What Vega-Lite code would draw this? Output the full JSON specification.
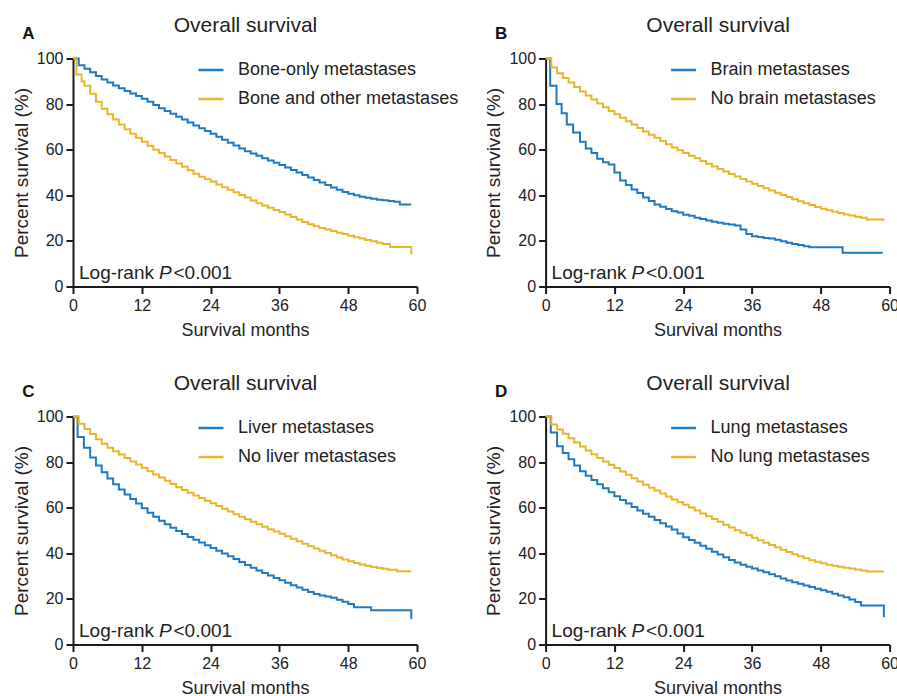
{
  "$schema": "https://vega.github.io/schema/vega-lite/v6.json",
  "background": "white",
  "autosize": {"type": "pad"},
  "padding": {"left": 12, "top": 13.5, "right": 5, "bottom": 0},
  "columns": 2,
  "spacing": {"row": 130, "column": 128.6},
  "bounds": "flush",
  "datasets": {
    "A": [
      {"m":0,"s":100,"g":"Bone-only metastases"},{"m":1,"s":97,"g":"Bone-only metastases"},{"m":2,"s":95.5,"g":"Bone-only metastases"},{"m":3,"s":94,"g":"Bone-only metastases"},{"m":4,"s":92.3,"g":"Bone-only metastases"},{"m":5,"s":90.8,"g":"Bone-only metastases"},{"m":6,"s":89.5,"g":"Bone-only metastases"},{"m":7,"s":88.2,"g":"Bone-only metastases"},{"m":8,"s":87,"g":"Bone-only metastases"},{"m":9,"s":85.8,"g":"Bone-only metastases"},{"m":10,"s":84.6,"g":"Bone-only metastases"},{"m":11,"s":83.5,"g":"Bone-only metastases"},{"m":12,"s":82.4,"g":"Bone-only metastases"},{"m":13,"s":81,"g":"Bone-only metastases"},{"m":14,"s":79.6,"g":"Bone-only metastases"},{"m":15,"s":78.2,"g":"Bone-only metastases"},{"m":16,"s":77,"g":"Bone-only metastases"},{"m":17,"s":75.8,"g":"Bone-only metastases"},{"m":18,"s":74.5,"g":"Bone-only metastases"},{"m":19,"s":73.2,"g":"Bone-only metastases"},{"m":20,"s":71.9,"g":"Bone-only metastases"},{"m":21,"s":70.6,"g":"Bone-only metastases"},{"m":22,"s":69.4,"g":"Bone-only metastases"},{"m":23,"s":68.2,"g":"Bone-only metastases"},{"m":24,"s":67,"g":"Bone-only metastases"},{"m":25,"s":65.7,"g":"Bone-only metastases"},{"m":26,"s":64.4,"g":"Bone-only metastases"},{"m":27,"s":63.1,"g":"Bone-only metastases"},{"m":28,"s":61.8,"g":"Bone-only metastases"},{"m":29,"s":60.5,"g":"Bone-only metastases"},{"m":30,"s":59.3,"g":"Bone-only metastases"},{"m":31,"s":58.3,"g":"Bone-only metastases"},{"m":32,"s":57.3,"g":"Bone-only metastases"},{"m":33,"s":56.3,"g":"Bone-only metastases"},{"m":34,"s":55.3,"g":"Bone-only metastases"},{"m":35,"s":54.3,"g":"Bone-only metastases"},{"m":36,"s":53.3,"g":"Bone-only metastases"},{"m":37,"s":52.2,"g":"Bone-only metastases"},{"m":38,"s":51.1,"g":"Bone-only metastases"},{"m":39,"s":50,"g":"Bone-only metastases"},{"m":40,"s":48.9,"g":"Bone-only metastases"},{"m":41,"s":47.8,"g":"Bone-only metastases"},{"m":42,"s":46.7,"g":"Bone-only metastases"},{"m":43,"s":45.6,"g":"Bone-only metastases"},{"m":44,"s":44.5,"g":"Bone-only metastases"},{"m":45,"s":43.4,"g":"Bone-only metastases"},{"m":46,"s":42.4,"g":"Bone-only metastases"},{"m":47,"s":41.5,"g":"Bone-only metastases"},{"m":48,"s":40.7,"g":"Bone-only metastases"},{"m":49,"s":40,"g":"Bone-only metastases"},{"m":50,"s":39.4,"g":"Bone-only metastases"},{"m":51,"s":38.9,"g":"Bone-only metastases"},{"m":52,"s":38.5,"g":"Bone-only metastases"},{"m":53,"s":38.1,"g":"Bone-only metastases"},{"m":54,"s":37.8,"g":"Bone-only metastases"},{"m":55,"s":37.5,"g":"Bone-only metastases"},{"m":56,"s":37.2,"g":"Bone-only metastases"},{"m":57,"s":36,"g":"Bone-only metastases"},{"m":59,"s":36,"g":"Bone-only metastases"},
      {"m":0,"s":100,"g":"Bone and other metastases"},{"m":0.6,"s":93,"g":"Bone and other metastases"},{"m":1.5,"s":90,"g":"Bone and other metastases"},{"m":2,"s":88,"g":"Bone and other metastases"},{"m":3,"s":84.5,"g":"Bone and other metastases"},{"m":4,"s":81,"g":"Bone and other metastases"},{"m":5,"s":78,"g":"Bone and other metastases"},{"m":6,"s":75.5,"g":"Bone and other metastases"},{"m":7,"s":73.2,"g":"Bone and other metastases"},{"m":8,"s":71,"g":"Bone and other metastases"},{"m":9,"s":69,"g":"Bone and other metastases"},{"m":10,"s":67,"g":"Bone and other metastases"},{"m":11,"s":65.2,"g":"Bone and other metastases"},{"m":12,"s":63.5,"g":"Bone and other metastases"},{"m":13,"s":61.7,"g":"Bone and other metastases"},{"m":14,"s":60,"g":"Bone and other metastases"},{"m":15,"s":58.5,"g":"Bone and other metastases"},{"m":16,"s":57,"g":"Bone and other metastases"},{"m":17,"s":55.5,"g":"Bone and other metastases"},{"m":18,"s":54,"g":"Bone and other metastases"},{"m":19,"s":52.5,"g":"Bone and other metastases"},{"m":20,"s":51,"g":"Bone and other metastases"},{"m":21,"s":49.5,"g":"Bone and other metastases"},{"m":22,"s":48.1,"g":"Bone and other metastases"},{"m":23,"s":47,"g":"Bone and other metastases"},{"m":24,"s":46,"g":"Bone and other metastases"},{"m":25,"s":44.7,"g":"Bone and other metastases"},{"m":26,"s":43.5,"g":"Bone and other metastases"},{"m":27,"s":42.4,"g":"Bone and other metastases"},{"m":28,"s":41.3,"g":"Bone and other metastases"},{"m":29,"s":40.1,"g":"Bone and other metastases"},{"m":30,"s":39,"g":"Bone and other metastases"},{"m":31,"s":37.7,"g":"Bone and other metastases"},{"m":32,"s":36.5,"g":"Bone and other metastases"},{"m":33,"s":35.5,"g":"Bone and other metastases"},{"m":34,"s":34.5,"g":"Bone and other metastases"},{"m":35,"s":33.6,"g":"Bone and other metastases"},{"m":36,"s":32.7,"g":"Bone and other metastases"},{"m":37,"s":31.6,"g":"Bone and other metastases"},{"m":38,"s":30.5,"g":"Bone and other metastases"},{"m":39,"s":29.4,"g":"Bone and other metastases"},{"m":40,"s":28.3,"g":"Bone and other metastases"},{"m":41,"s":27.3,"g":"Bone and other metastases"},{"m":42,"s":26.4,"g":"Bone and other metastases"},{"m":43,"s":25.7,"g":"Bone and other metastases"},{"m":44,"s":25,"g":"Bone and other metastases"},{"m":45,"s":24.3,"g":"Bone and other metastases"},{"m":46,"s":23.6,"g":"Bone and other metastases"},{"m":47,"s":23,"g":"Bone and other metastases"},{"m":48,"s":22.3,"g":"Bone and other metastases"},{"m":49,"s":21.6,"g":"Bone and other metastases"},{"m":50,"s":21,"g":"Bone and other metastases"},{"m":51,"s":20.4,"g":"Bone and other metastases"},{"m":52,"s":19.8,"g":"Bone and other metastases"},{"m":53,"s":19.2,"g":"Bone and other metastases"},{"m":54,"s":18.6,"g":"Bone and other metastases"},{"m":55.3,"s":17.3,"g":"Bone and other metastases"},{"m":59,"s":14,"g":"Bone and other metastases"}
    ],
    "B": [
      {"m":0,"s":100,"g":"Brain metastases"},{"m":0.8,"s":88,"g":"Brain metastases"},{"m":1.9,"s":80,"g":"Brain metastases"},{"m":2.8,"s":76,"g":"Brain metastases"},{"m":3.7,"s":71,"g":"Brain metastases"},{"m":4.8,"s":67.5,"g":"Brain metastases"},{"m":6,"s":63.5,"g":"Brain metastases"},{"m":7,"s":60.5,"g":"Brain metastases"},{"m":8,"s":58.5,"g":"Brain metastases"},{"m":9,"s":56,"g":"Brain metastases"},{"m":10,"s":54.5,"g":"Brain metastases"},{"m":11,"s":53.5,"g":"Brain metastases"},{"m":12,"s":50,"g":"Brain metastases"},{"m":13,"s":46.5,"g":"Brain metastases"},{"m":14,"s":44.5,"g":"Brain metastases"},{"m":15,"s":42.5,"g":"Brain metastases"},{"m":16,"s":41,"g":"Brain metastases"},{"m":17,"s":39,"g":"Brain metastases"},{"m":18,"s":37.5,"g":"Brain metastases"},{"m":19,"s":36,"g":"Brain metastases"},{"m":20,"s":35,"g":"Brain metastases"},{"m":21,"s":34,"g":"Brain metastases"},{"m":22,"s":33,"g":"Brain metastases"},{"m":23,"s":32.5,"g":"Brain metastases"},{"m":24,"s":31.5,"g":"Brain metastases"},{"m":25,"s":31,"g":"Brain metastases"},{"m":26,"s":30.2,"g":"Brain metastases"},{"m":27,"s":29.6,"g":"Brain metastases"},{"m":28,"s":29,"g":"Brain metastases"},{"m":29,"s":28.4,"g":"Brain metastases"},{"m":30,"s":28,"g":"Brain metastases"},{"m":31,"s":27.5,"g":"Brain metastases"},{"m":32,"s":27.2,"g":"Brain metastases"},{"m":33,"s":26.8,"g":"Brain metastases"},{"m":34,"s":25,"g":"Brain metastases"},{"m":35,"s":23,"g":"Brain metastases"},{"m":36,"s":22,"g":"Brain metastases"},{"m":37,"s":21.7,"g":"Brain metastases"},{"m":38,"s":21.3,"g":"Brain metastases"},{"m":39,"s":21,"g":"Brain metastases"},{"m":40,"s":20.5,"g":"Brain metastases"},{"m":41,"s":19.8,"g":"Brain metastases"},{"m":42,"s":19.2,"g":"Brain metastases"},{"m":43,"s":18.6,"g":"Brain metastases"},{"m":44,"s":18.2,"g":"Brain metastases"},{"m":45,"s":17.6,"g":"Brain metastases"},{"m":46,"s":17.2,"g":"Brain metastases"},{"m":51.8,"s":14.8,"g":"Brain metastases"},{"m":58.8,"s":14.8,"g":"Brain metastases"},
      {"m":0,"s":100,"g":"No brain metastases"},{"m":1,"s":96,"g":"No brain metastases"},{"m":2,"s":93.5,"g":"No brain metastases"},{"m":3,"s":91.5,"g":"No brain metastases"},{"m":4,"s":89.5,"g":"No brain metastases"},{"m":5,"s":87.5,"g":"No brain metastases"},{"m":6,"s":85.5,"g":"No brain metastases"},{"m":7,"s":83.8,"g":"No brain metastases"},{"m":8,"s":82,"g":"No brain metastases"},{"m":9,"s":80.3,"g":"No brain metastases"},{"m":10,"s":78.6,"g":"No brain metastases"},{"m":11,"s":77,"g":"No brain metastases"},{"m":12,"s":75.5,"g":"No brain metastases"},{"m":13,"s":74,"g":"No brain metastases"},{"m":14,"s":72.5,"g":"No brain metastases"},{"m":15,"s":71,"g":"No brain metastases"},{"m":16,"s":69.5,"g":"No brain metastases"},{"m":17,"s":68,"g":"No brain metastases"},{"m":18,"s":66.6,"g":"No brain metastases"},{"m":19,"s":65.2,"g":"No brain metastases"},{"m":20,"s":63.8,"g":"No brain metastases"},{"m":21,"s":62.4,"g":"No brain metastases"},{"m":22,"s":61,"g":"No brain metastases"},{"m":23,"s":59.8,"g":"No brain metastases"},{"m":24,"s":58.6,"g":"No brain metastases"},{"m":25,"s":57.4,"g":"No brain metastases"},{"m":26,"s":56.2,"g":"No brain metastases"},{"m":27,"s":55,"g":"No brain metastases"},{"m":28,"s":53.8,"g":"No brain metastases"},{"m":29,"s":52.6,"g":"No brain metastases"},{"m":30,"s":51.5,"g":"No brain metastases"},{"m":31,"s":50.4,"g":"No brain metastases"},{"m":32,"s":49.3,"g":"No brain metastases"},{"m":33,"s":48.2,"g":"No brain metastases"},{"m":34,"s":47.1,"g":"No brain metastases"},{"m":35,"s":46.1,"g":"No brain metastases"},{"m":36,"s":45.1,"g":"No brain metastases"},{"m":37,"s":44.1,"g":"No brain metastases"},{"m":38,"s":43.1,"g":"No brain metastases"},{"m":39,"s":42.1,"g":"No brain metastases"},{"m":40,"s":41.1,"g":"No brain metastases"},{"m":41,"s":40.1,"g":"No brain metastases"},{"m":42,"s":39.2,"g":"No brain metastases"},{"m":43,"s":38.3,"g":"No brain metastases"},{"m":44,"s":37.4,"g":"No brain metastases"},{"m":45,"s":36.5,"g":"No brain metastases"},{"m":46,"s":35.7,"g":"No brain metastases"},{"m":47,"s":34.9,"g":"No brain metastases"},{"m":48,"s":34.1,"g":"No brain metastases"},{"m":49,"s":33.4,"g":"No brain metastases"},{"m":50,"s":32.8,"g":"No brain metastases"},{"m":51,"s":32.2,"g":"No brain metastases"},{"m":52,"s":31.6,"g":"No brain metastases"},{"m":53,"s":31.1,"g":"No brain metastases"},{"m":54,"s":30.6,"g":"No brain metastases"},{"m":55,"s":30.1,"g":"No brain metastases"},{"m":56,"s":29.4,"g":"No brain metastases"},{"m":58.9,"s":28.7,"g":"No brain metastases"}
    ],
    "C": [
      {"m":0,"s":100,"g":"Liver metastases"},{"m":0.8,"s":91,"g":"Liver metastases"},{"m":1.9,"s":86.3,"g":"Liver metastases"},{"m":3,"s":82,"g":"Liver metastases"},{"m":4,"s":78.5,"g":"Liver metastases"},{"m":5,"s":75.5,"g":"Liver metastases"},{"m":6,"s":72.8,"g":"Liver metastases"},{"m":7,"s":70.3,"g":"Liver metastases"},{"m":8,"s":68,"g":"Liver metastases"},{"m":9,"s":65.8,"g":"Liver metastases"},{"m":10,"s":63.8,"g":"Liver metastases"},{"m":11,"s":61.8,"g":"Liver metastases"},{"m":12,"s":59.8,"g":"Liver metastases"},{"m":13,"s":57.8,"g":"Liver metastases"},{"m":14,"s":56,"g":"Liver metastases"},{"m":15,"s":54.3,"g":"Liver metastases"},{"m":16,"s":52.7,"g":"Liver metastases"},{"m":17,"s":51.2,"g":"Liver metastases"},{"m":18,"s":49.8,"g":"Liver metastases"},{"m":19,"s":48.5,"g":"Liver metastases"},{"m":20,"s":47.2,"g":"Liver metastases"},{"m":21,"s":45.9,"g":"Liver metastases"},{"m":22,"s":44.7,"g":"Liver metastases"},{"m":23,"s":43.5,"g":"Liver metastases"},{"m":24,"s":42.3,"g":"Liver metastases"},{"m":25,"s":41.1,"g":"Liver metastases"},{"m":26,"s":39.9,"g":"Liver metastases"},{"m":27,"s":38.7,"g":"Liver metastases"},{"m":28,"s":37.5,"g":"Liver metastases"},{"m":29,"s":36.2,"g":"Liver metastases"},{"m":30,"s":34.9,"g":"Liver metastases"},{"m":31,"s":33.7,"g":"Liver metastases"},{"m":32,"s":32.5,"g":"Liver metastases"},{"m":33,"s":31.4,"g":"Liver metastases"},{"m":34,"s":30.3,"g":"Liver metastases"},{"m":35,"s":29.2,"g":"Liver metastases"},{"m":36,"s":28.2,"g":"Liver metastases"},{"m":37,"s":27.1,"g":"Liver metastases"},{"m":38,"s":26,"g":"Liver metastases"},{"m":39,"s":25,"g":"Liver metastases"},{"m":40,"s":24,"g":"Liver metastases"},{"m":41,"s":23,"g":"Liver metastases"},{"m":42,"s":22.2,"g":"Liver metastases"},{"m":43,"s":21.5,"g":"Liver metastases"},{"m":44,"s":21,"g":"Liver metastases"},{"m":45,"s":20.5,"g":"Liver metastases"},{"m":46,"s":19.6,"g":"Liver metastases"},{"m":47,"s":18.7,"g":"Liver metastases"},{"m":48,"s":17.8,"g":"Liver metastases"},{"m":49,"s":16.3,"g":"Liver metastases"},{"m":52,"s":15,"g":"Liver metastases"},{"m":59,"s":11.2,"g":"Liver metastases"},
      {"m":0,"s":100,"g":"No liver metastases"},{"m":1,"s":96.8,"g":"No liver metastases"},{"m":2,"s":94.5,"g":"No liver metastases"},{"m":3,"s":92.3,"g":"No liver metastases"},{"m":4,"s":90,"g":"No liver metastases"},{"m":5,"s":88,"g":"No liver metastases"},{"m":6,"s":86.3,"g":"No liver metastases"},{"m":7,"s":84.8,"g":"No liver metastases"},{"m":8,"s":83.3,"g":"No liver metastases"},{"m":9,"s":81.8,"g":"No liver metastases"},{"m":10,"s":80.3,"g":"No liver metastases"},{"m":11,"s":78.9,"g":"No liver metastases"},{"m":12,"s":77.5,"g":"No liver metastases"},{"m":13,"s":76,"g":"No liver metastases"},{"m":14,"s":74.6,"g":"No liver metastases"},{"m":15,"s":73.2,"g":"No liver metastases"},{"m":16,"s":71.8,"g":"No liver metastases"},{"m":17,"s":70.4,"g":"No liver metastases"},{"m":18,"s":69,"g":"No liver metastases"},{"m":19,"s":67.8,"g":"No liver metastases"},{"m":20,"s":66.6,"g":"No liver metastases"},{"m":21,"s":65.4,"g":"No liver metastases"},{"m":22,"s":64.2,"g":"No liver metastases"},{"m":23,"s":63,"g":"No liver metastases"},{"m":24,"s":61.9,"g":"No liver metastases"},{"m":25,"s":60.7,"g":"No liver metastases"},{"m":26,"s":59.5,"g":"No liver metastases"},{"m":27,"s":58.3,"g":"No liver metastases"},{"m":28,"s":57.1,"g":"No liver metastases"},{"m":29,"s":56,"g":"No liver metastases"},{"m":30,"s":54.9,"g":"No liver metastases"},{"m":31,"s":53.8,"g":"No liver metastases"},{"m":32,"s":52.7,"g":"No liver metastases"},{"m":33,"s":51.6,"g":"No liver metastases"},{"m":34,"s":50.6,"g":"No liver metastases"},{"m":35,"s":49.6,"g":"No liver metastases"},{"m":36,"s":48.6,"g":"No liver metastases"},{"m":37,"s":47.5,"g":"No liver metastases"},{"m":38,"s":46.4,"g":"No liver metastases"},{"m":39,"s":45.3,"g":"No liver metastases"},{"m":40,"s":44.2,"g":"No liver metastases"},{"m":41,"s":43.1,"g":"No liver metastases"},{"m":42,"s":42.1,"g":"No liver metastases"},{"m":43,"s":41.1,"g":"No liver metastases"},{"m":44,"s":40.1,"g":"No liver metastases"},{"m":45,"s":39.1,"g":"No liver metastases"},{"m":46,"s":38.2,"g":"No liver metastases"},{"m":47,"s":37.3,"g":"No liver metastases"},{"m":48,"s":36.5,"g":"No liver metastases"},{"m":49,"s":35.8,"g":"No liver metastases"},{"m":50,"s":35.1,"g":"No liver metastases"},{"m":51,"s":34.5,"g":"No liver metastases"},{"m":52,"s":34,"g":"No liver metastases"},{"m":53,"s":33.6,"g":"No liver metastases"},{"m":54,"s":33.2,"g":"No liver metastases"},{"m":55,"s":32.8,"g":"No liver metastases"},{"m":56.5,"s":32.1,"g":"No liver metastases"},{"m":59,"s":32.1,"g":"No liver metastases"}
    ],
    "D": [
      {"m":0,"s":100,"g":"Lung metastases"},{"m":0.9,"s":93,"g":"Lung metastases"},{"m":2,"s":87,"g":"Lung metastases"},{"m":3,"s":84,"g":"Lung metastases"},{"m":4,"s":81.3,"g":"Lung metastases"},{"m":5,"s":78.5,"g":"Lung metastases"},{"m":6,"s":76,"g":"Lung metastases"},{"m":7,"s":74,"g":"Lung metastases"},{"m":8,"s":72.2,"g":"Lung metastases"},{"m":9,"s":70.3,"g":"Lung metastases"},{"m":10,"s":68.5,"g":"Lung metastases"},{"m":11,"s":66.8,"g":"Lung metastases"},{"m":12,"s":65,"g":"Lung metastases"},{"m":13,"s":63.4,"g":"Lung metastases"},{"m":14,"s":61.8,"g":"Lung metastases"},{"m":15,"s":60.3,"g":"Lung metastases"},{"m":16,"s":58.8,"g":"Lung metastases"},{"m":17,"s":57.4,"g":"Lung metastases"},{"m":18,"s":56,"g":"Lung metastases"},{"m":19,"s":54.6,"g":"Lung metastases"},{"m":20,"s":53.2,"g":"Lung metastases"},{"m":21,"s":51.8,"g":"Lung metastases"},{"m":22,"s":50.4,"g":"Lung metastases"},{"m":23,"s":48.7,"g":"Lung metastases"},{"m":24,"s":47,"g":"Lung metastases"},{"m":25,"s":45.8,"g":"Lung metastases"},{"m":26,"s":44.6,"g":"Lung metastases"},{"m":27,"s":43.3,"g":"Lung metastases"},{"m":28,"s":42,"g":"Lung metastases"},{"m":29,"s":40.7,"g":"Lung metastases"},{"m":30,"s":39.5,"g":"Lung metastases"},{"m":31,"s":38.3,"g":"Lung metastases"},{"m":32,"s":37.1,"g":"Lung metastases"},{"m":33,"s":36,"g":"Lung metastases"},{"m":34,"s":35,"g":"Lung metastases"},{"m":35,"s":34.1,"g":"Lung metastases"},{"m":36,"s":33.3,"g":"Lung metastases"},{"m":37,"s":32.5,"g":"Lung metastases"},{"m":38,"s":31.7,"g":"Lung metastases"},{"m":39,"s":30.8,"g":"Lung metastases"},{"m":40,"s":29.9,"g":"Lung metastases"},{"m":41,"s":29,"g":"Lung metastases"},{"m":42,"s":28.1,"g":"Lung metastases"},{"m":43,"s":27.3,"g":"Lung metastases"},{"m":44,"s":26.6,"g":"Lung metastases"},{"m":45,"s":25.9,"g":"Lung metastases"},{"m":46,"s":25.2,"g":"Lung metastases"},{"m":47,"s":24.5,"g":"Lung metastases"},{"m":48,"s":23.8,"g":"Lung metastases"},{"m":49,"s":23.1,"g":"Lung metastases"},{"m":50,"s":22.3,"g":"Lung metastases"},{"m":51,"s":21.5,"g":"Lung metastases"},{"m":52,"s":20.7,"g":"Lung metastases"},{"m":53,"s":19.7,"g":"Lung metastases"},{"m":54,"s":18.6,"g":"Lung metastases"},{"m":55,"s":17.1,"g":"Lung metastases"},{"m":59,"s":12,"g":"Lung metastases"},
      {"m":0,"s":100,"g":"No lung metastases"},{"m":1,"s":96.5,"g":"No lung metastases"},{"m":2,"s":94.3,"g":"No lung metastases"},{"m":3,"s":92.4,"g":"No lung metastases"},{"m":4,"s":90.5,"g":"No lung metastases"},{"m":5,"s":88.6,"g":"No lung metastases"},{"m":6,"s":86.8,"g":"No lung metastases"},{"m":7,"s":85.1,"g":"No lung metastases"},{"m":8,"s":83.4,"g":"No lung metastases"},{"m":9,"s":81.8,"g":"No lung metastases"},{"m":10,"s":80.3,"g":"No lung metastases"},{"m":11,"s":78.8,"g":"No lung metastases"},{"m":12,"s":77.4,"g":"No lung metastases"},{"m":13,"s":75.9,"g":"No lung metastases"},{"m":14,"s":74.4,"g":"No lung metastases"},{"m":15,"s":72.9,"g":"No lung metastases"},{"m":16,"s":71.5,"g":"No lung metastases"},{"m":17,"s":70.1,"g":"No lung metastases"},{"m":18,"s":68.8,"g":"No lung metastases"},{"m":19,"s":67.5,"g":"No lung metastases"},{"m":20,"s":66.2,"g":"No lung metastases"},{"m":21,"s":64.9,"g":"No lung metastases"},{"m":22,"s":63.6,"g":"No lung metastases"},{"m":23,"s":62.4,"g":"No lung metastases"},{"m":24,"s":61.3,"g":"No lung metastases"},{"m":25,"s":60.1,"g":"No lung metastases"},{"m":26,"s":58.8,"g":"No lung metastases"},{"m":27,"s":57.5,"g":"No lung metastases"},{"m":28,"s":56.2,"g":"No lung metastases"},{"m":29,"s":55,"g":"No lung metastases"},{"m":30,"s":53.8,"g":"No lung metastases"},{"m":31,"s":52.5,"g":"No lung metastases"},{"m":32,"s":51.3,"g":"No lung metastases"},{"m":33,"s":50.1,"g":"No lung metastases"},{"m":34,"s":49,"g":"No lung metastases"},{"m":35,"s":47.9,"g":"No lung metastases"},{"m":36,"s":46.8,"g":"No lung metastases"},{"m":37,"s":45.7,"g":"No lung metastases"},{"m":38,"s":44.6,"g":"No lung metastases"},{"m":39,"s":43.6,"g":"No lung metastases"},{"m":40,"s":42.6,"g":"No lung metastases"},{"m":41,"s":41.6,"g":"No lung metastases"},{"m":42,"s":40.6,"g":"No lung metastases"},{"m":43,"s":39.6,"g":"No lung metastases"},{"m":44,"s":38.7,"g":"No lung metastases"},{"m":45,"s":37.8,"g":"No lung metastases"},{"m":46,"s":37,"g":"No lung metastases"},{"m":47,"s":36.3,"g":"No lung metastases"},{"m":48,"s":35.6,"g":"No lung metastases"},{"m":49,"s":35,"g":"No lung metastases"},{"m":50,"s":34.5,"g":"No lung metastases"},{"m":51,"s":34.1,"g":"No lung metastases"},{"m":52,"s":33.7,"g":"No lung metastases"},{"m":53,"s":33.3,"g":"No lung metastases"},{"m":54,"s":32.9,"g":"No lung metastases"},{"m":55,"s":32.5,"g":"No lung metastases"},{"m":56,"s":32,"g":"No lung metastases"},{"m":59,"s":32,"g":"No lung metastases"}
    ]
  },
  "concat": [
    {
      "title": {"text": "A", "dx": 10, "dy": 33},
      "width": 344, "height": 228,
      "layer": [
        {"data": {"name": "A"}, "mark": {"type": "line", "interpolate": "step-after", "strokeWidth": 2},
         "encoding": {
           "x": {"field": "m", "type": "quantitative", "scale": {"domain": [0, 60], "nice": false}, "axis": {"title": "Survival months", "values": [0, 12, 24, 36, 48, 60]}},
           "y": {"field": "s", "type": "quantitative", "scale": {"domain": [0, 100], "nice": false}, "axis": {"title": "Percent survival (%)", "values": [0, 20, 40, 60, 80, 100]}},
           "color": {"field": "g", "type": "nominal", "scale": {"domain": ["Bone-only metastases", "Bone and other metastases"], "range": ["#1f7ac2", "#e8b62a"]}, "legend": {"title": null, "orient": "none", "legendX": 124, "legendY": -2.5}}
         }},
        {"data": {"values": [{}]}, "mark": {"type": "text", "align": "left", "baseline": "alphabetic", "fontSize": 19},
         "encoding": {"x": {"datum": 1.05, "type": "quantitative", "axis": {"orient": "top", "title": "Overall survival", "domain": false, "ticks": false, "labels": false, "titlePadding": 23.5, "titleFontSize": 21}}, "y": {"datum": 3.5, "type": "quantitative"}, "text": {"value": "Log-rank"}}},
        {"data": {"values": [{}]}, "mark": {"type": "text", "align": "left", "baseline": "alphabetic", "fontSize": 19, "fontStyle": "italic", "dx": 80},
         "encoding": {"x": {"datum": 1.05, "type": "quantitative", "axis": null}, "y": {"datum": 3.5, "type": "quantitative"}, "text": {"value": "P"}}},
        {"data": {"values": [{}]}, "mark": {"type": "text", "align": "left", "baseline": "alphabetic", "fontSize": 19, "dx": 94.5},
         "encoding": {"x": {"datum": 1.05, "type": "quantitative", "axis": null}, "y": {"datum": 3.5, "type": "quantitative"}, "text": {"value": "<0.001"}}}
      ],
      "resolve": {"axis": {"x": "independent"}}
    },
    {
      "title": {"text": "B", "dx": 10, "dy": 33},
      "width": 344, "height": 228,
      "layer": [
        {"data": {"name": "B"}, "mark": {"type": "line", "interpolate": "step-after", "strokeWidth": 2},
         "encoding": {
           "x": {"field": "m", "type": "quantitative", "scale": {"domain": [0, 60], "nice": false}, "axis": {"title": "Survival months", "values": [0, 12, 24, 36, 48, 60]}},
           "y": {"field": "s", "type": "quantitative", "scale": {"domain": [0, 100], "nice": false}, "axis": {"title": "Percent survival (%)", "values": [0, 20, 40, 60, 80, 100]}},
           "color": {"field": "g", "type": "nominal", "scale": {"domain": ["Brain metastases", "No brain metastases"], "range": ["#1f7ac2", "#e8b62a"]}, "legend": {"title": null, "orient": "none", "legendX": 124, "legendY": -2.5}}
         }},
        {"data": {"values": [{}]}, "mark": {"type": "text", "align": "left", "baseline": "alphabetic", "fontSize": 19},
         "encoding": {"x": {"datum": 1.05, "type": "quantitative", "axis": {"orient": "top", "title": "Overall survival", "domain": false, "ticks": false, "labels": false, "titlePadding": 23.5, "titleFontSize": 21}}, "y": {"datum": 3.5, "type": "quantitative"}, "text": {"value": "Log-rank"}}},
        {"data": {"values": [{}]}, "mark": {"type": "text", "align": "left", "baseline": "alphabetic", "fontSize": 19, "fontStyle": "italic", "dx": 80},
         "encoding": {"x": {"datum": 1.05, "type": "quantitative", "axis": null}, "y": {"datum": 3.5, "type": "quantitative"}, "text": {"value": "P"}}},
        {"data": {"values": [{}]}, "mark": {"type": "text", "align": "left", "baseline": "alphabetic", "fontSize": 19, "dx": 94.5},
         "encoding": {"x": {"datum": 1.05, "type": "quantitative", "axis": null}, "y": {"datum": 3.5, "type": "quantitative"}, "text": {"value": "<0.001"}}}
      ],
      "resolve": {"axis": {"x": "independent"}}
    },
    {
      "title": {"text": "C", "dx": 10, "dy": 33},
      "width": 344, "height": 228,
      "layer": [
        {"data": {"name": "C"}, "mark": {"type": "line", "interpolate": "step-after", "strokeWidth": 2},
         "encoding": {
           "x": {"field": "m", "type": "quantitative", "scale": {"domain": [0, 60], "nice": false}, "axis": {"title": "Survival months", "values": [0, 12, 24, 36, 48, 60]}},
           "y": {"field": "s", "type": "quantitative", "scale": {"domain": [0, 100], "nice": false}, "axis": {"title": "Percent survival (%)", "values": [0, 20, 40, 60, 80, 100]}},
           "color": {"field": "g", "type": "nominal", "scale": {"domain": ["Liver metastases", "No liver metastases"], "range": ["#1f7ac2", "#e8b62a"]}, "legend": {"title": null, "orient": "none", "legendX": 124, "legendY": -2.5}}
         }},
        {"data": {"values": [{}]}, "mark": {"type": "text", "align": "left", "baseline": "alphabetic", "fontSize": 19},
         "encoding": {"x": {"datum": 1.05, "type": "quantitative", "axis": {"orient": "top", "title": "Overall survival", "domain": false, "ticks": false, "labels": false, "titlePadding": 23.5, "titleFontSize": 21}}, "y": {"datum": 3.5, "type": "quantitative"}, "text": {"value": "Log-rank"}}},
        {"data": {"values": [{}]}, "mark": {"type": "text", "align": "left", "baseline": "alphabetic", "fontSize": 19, "fontStyle": "italic", "dx": 80},
         "encoding": {"x": {"datum": 1.05, "type": "quantitative", "axis": null}, "y": {"datum": 3.5, "type": "quantitative"}, "text": {"value": "P"}}},
        {"data": {"values": [{}]}, "mark": {"type": "text", "align": "left", "baseline": "alphabetic", "fontSize": 19, "dx": 94.5},
         "encoding": {"x": {"datum": 1.05, "type": "quantitative", "axis": null}, "y": {"datum": 3.5, "type": "quantitative"}, "text": {"value": "<0.001"}}}
      ],
      "resolve": {"axis": {"x": "independent"}}
    },
    {
      "title": {"text": "D", "dx": 10, "dy": 33},
      "width": 344, "height": 228,
      "layer": [
        {"data": {"name": "D"}, "mark": {"type": "line", "interpolate": "step-after", "strokeWidth": 2},
         "encoding": {
           "x": {"field": "m", "type": "quantitative", "scale": {"domain": [0, 60], "nice": false}, "axis": {"title": "Survival months", "values": [0, 12, 24, 36, 48, 60]}},
           "y": {"field": "s", "type": "quantitative", "scale": {"domain": [0, 100], "nice": false}, "axis": {"title": "Percent survival (%)", "values": [0, 20, 40, 60, 80, 100]}},
           "color": {"field": "g", "type": "nominal", "scale": {"domain": ["Lung metastases", "No lung metastases"], "range": ["#1f7ac2", "#e8b62a"]}, "legend": {"title": null, "orient": "none", "legendX": 124, "legendY": -2.5}}
         }},
        {"data": {"values": [{}]}, "mark": {"type": "text", "align": "left", "baseline": "alphabetic", "fontSize": 19},
         "encoding": {"x": {"datum": 1.05, "type": "quantitative", "axis": {"orient": "top", "title": "Overall survival", "domain": false, "ticks": false, "labels": false, "titlePadding": 23.5, "titleFontSize": 21}}, "y": {"datum": 3.5, "type": "quantitative"}, "text": {"value": "Log-rank"}}},
        {"data": {"values": [{}]}, "mark": {"type": "text", "align": "left", "baseline": "alphabetic", "fontSize": 19, "fontStyle": "italic", "dx": 80},
         "encoding": {"x": {"datum": 1.05, "type": "quantitative", "axis": null}, "y": {"datum": 3.5, "type": "quantitative"}, "text": {"value": "P"}}},
        {"data": {"values": [{}]}, "mark": {"type": "text", "align": "left", "baseline": "alphabetic", "fontSize": 19, "dx": 94.5},
         "encoding": {"x": {"datum": 1.05, "type": "quantitative", "axis": null}, "y": {"datum": 3.5, "type": "quantitative"}, "text": {"value": "<0.001"}}}
      ],
      "resolve": {"axis": {"x": "independent"}}
    }
  ],
  "resolve": {"scale": {"color": "independent"}, "legend": {"color": "independent"}},
  "config": {
    "view": {"stroke": null},
    "font": "Liberation Sans",
    "axis": {"domainColor": "#1a1a1a", "domainWidth": 2, "tickColor": "#1a1a1a", "tickWidth": 2, "tickSize": 7, "labelFontSize": 16, "labelColor": "#222", "labelFont": "Liberation Sans", "titleFont": "Liberation Sans", "titleFontSize": 18, "titleFontWeight": "normal", "titleColor": "#222", "grid": false, "labelFlush": false},
    "axisX": {"labelPadding": 4, "titlePadding": 8},
    "axisY": {"labelPadding": 3, "titlePadding": 5, "titleFontSize": 19},
    "legend": {"symbolType": "stroke", "symbolSize": 625, "symbolStrokeWidth": 2.5, "labelFontSize": 18, "labelFont": "Liberation Sans", "labelColor": "#222", "labelOffset": 13, "rowPadding": 6, "padding": 0, "labelLimit": 400},
    "text": {"font": "Liberation Sans", "color": "#222"},
    "title": {"font": "Liberation Sans", "fontSize": 17, "fontWeight": "bold", "color": "#111", "anchor": "start", "frame": "bounds", "offset": 0, "baseline": "alphabetic"}
  }
}
